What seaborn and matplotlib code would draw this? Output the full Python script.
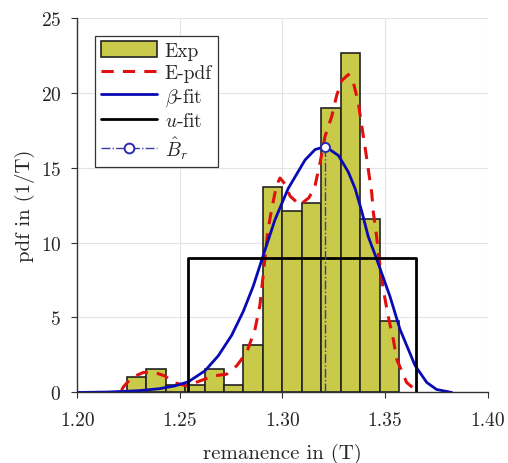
import numpy as np
import pandas as pd
import matplotlib
matplotlib.use("Agg")
import matplotlib.pyplot as plt
import seaborn as sns

# histogram of measured remanence (200 magnets, 14 bins)
bin_edges = np.linspace(1.2241, 1.3569, 15)
bin_counts = [2, 3, 1, 1, 3, 1, 6, 26, 23, 24, 36, 43, 22, 9]
bin_centers = 0.5 * (bin_edges[:-1] + bin_edges[1:])

# empirical pdf (dashed red)
epdf_x = [1.2216, 1.2224, 1.2265, 1.2322, 1.2370, 1.2427, 1.2468, 1.2533, 1.2598,
          1.2663, 1.2728, 1.2777, 1.2826, 1.2866, 1.2890, 1.2906, 1.2928, 1.2947,
          1.2971, 1.2988, 1.3012, 1.3037, 1.3085, 1.3130, 1.3159, 1.3183, 1.3208,
          1.3240, 1.3264, 1.3289, 1.3321, 1.3345, 1.3370, 1.3386, 1.3402, 1.3418,
          1.3435, 1.3443, 1.3459, 1.3467, 1.3491, 1.3515, 1.3540, 1.3557, 1.3605,
          1.3654]
epdf_y = [0.15, 0.35, 1.0, 1.33, 1.37, 1.1, 0.67, 0.44, 0.77,
          1.1, 1.22, 1.78, 2.67, 4.2, 5.8, 7.8, 10.7, 12.2,
          13.8, 14.3, 13.9, 13.1, 12.5, 13.0, 13.8, 15.3, 17.1,
          18.4, 19.8, 20.8, 21.2, 20.7, 19.3, 17.8, 16.4, 14.9,
          13.3, 12.0, 10.4, 9.3, 6.9, 5.1, 3.55, 2.2, 0.67,
          0.1]

# beta fit (solid blue)
beta_x = [1.200, 1.215, 1.230, 1.240, 1.2476, 1.2541, 1.2622, 1.2687, 1.2752,
          1.2809, 1.2858, 1.2903, 1.2963, 1.3028, 1.3110, 1.3159, 1.3209, 1.3273,
          1.3321, 1.3354, 1.3386, 1.3418, 1.3459, 1.3524, 1.3573, 1.3646, 1.3703,
          1.3751, 1.3825]
beta_y = [0.0, 0.03, 0.12, 0.25, 0.44, 0.71, 1.44, 2.44, 3.8,
          5.4, 7.1, 9.0, 11.5, 13.6, 15.5, 16.2, 16.4, 15.8,
          14.7, 13.6, 12.1, 10.4, 8.9, 6.4, 4.2, 1.8, 0.67,
          0.2, 0.0]

# uniform fit (black box)
u_low, u_high, u_height = 1.2541, 1.3651, 9.0

# estimated remanence
br_hat, br_pdf = 1.3209, 16.4

sns.set_theme(style="whitegrid")
plt.rcParams["font.family"] = ["cmr10", "DejaVu Serif"]
plt.rcParams["mathtext.fontset"] = "cm"
plt.rcParams["axes.formatter.use_mathtext"] = True

fig = plt.figure(figsize=(5.08, 4.64), dpi=100)
ax = fig.add_axes([0.152, 0.152, 0.808, 0.808])

hist_df = pd.DataFrame({"remanence": bin_centers, "count": bin_counts})
sns.histplot(data=hist_df, x="remanence", weights="count", bins=list(bin_edges),
             stat="density", color="#c9c94a", edgecolor="#222222", linewidth=1.2,
             alpha=1, label="Exp", ax=ax)
sns.lineplot(x=epdf_x, y=epdf_y, color="#e01010", linewidth=2.2, ax=ax,
             label="E-pdf", estimator=None, sort=False)
ax.lines[-1].set_dashes([4, 3])
sns.lineplot(x=beta_x, y=beta_y, color="#0a0ab4", linewidth=2.0, ax=ax,
             label=r"$\beta$-fit", estimator=None, sort=False)
sns.lineplot(x=[u_low, u_low, u_high, u_high], y=[0, u_height, u_height, 0],
             color="black", linewidth=2.0, ax=ax, label=r"$u$-fit",
             estimator=None, sort=False)
ax.plot([br_hat, br_hat], [0, br_pdf], color="#3a3aa0", linewidth=1.0,
        linestyle="-.", zorder=4)
ax.plot([br_hat], [br_pdf], marker="o", markersize=6.5, markerfacecolor="white",
        markeredgecolor="#2a2ab0", markeredgewidth=1.4, linestyle="none", zorder=5)
# legend proxy for B_r hat
ax.plot([], [], color="#3a3aa0", linewidth=1.0, linestyle="-.", marker="o",
        markersize=7, markerfacecolor="white", markeredgecolor="#2a2ab0",
        markeredgewidth=1.4, markevery=[1], label=r"$\hat{B}_r$")

ax.set_xlim(1.20, 1.40)
ax.set_ylim(0, 25)
ax.set_xticks([1.20, 1.25, 1.30, 1.35, 1.40])
ax.set_xticklabels(["1.20", "1.25", "1.30", "1.35", "1.40"])
ax.set_yticks([0, 5, 10, 15, 20, 25])
ax.tick_params(axis="both", labelsize=14, direction="out", length=4,
               width=0.8, color="#333333", bottom=True, left=True)
ax.tick_params(axis="x", pad=9.5)
ax.tick_params(axis="y", pad=7.5)
ax.grid(True, color="#e4e4e4", linewidth=0.8)
ax.set_axisbelow(True)
for side in ["top", "right"]:
    ax.spines[side].set_visible(False)
for side in ["left", "bottom"]:
    ax.spines[side].set_color("#333333")
    ax.spines[side].set_linewidth(1.0)
ax.set_xlabel("remanence in (T)", fontsize=15, labelpad=10)
ax.set_ylabel("pdf in (1/T)", fontsize=15, labelpad=4)

handles, labels = ax.get_legend_handles_labels()
order = [labels.index(l) for l in ["Exp", "E-pdf", r"$\beta$-fit", r"$u$-fit",
                                   r"$\hat{B}_r$"]]
leg = ax.legend([handles[i] for i in order], [labels[i] for i in order],
                loc="upper left", bbox_to_anchor=(0.043, 0.952),
                fontsize=14, frameon=True, fancybox=False, framealpha=1,
                edgecolor="#333333", handlelength=2.9, handleheight=0.85,
                borderpad=0.3, labelspacing=0.2, handletextpad=0.4,
                borderaxespad=0)
leg.get_frame().set_linewidth(0.9)

fig.savefig("out.png", dpi=100)
